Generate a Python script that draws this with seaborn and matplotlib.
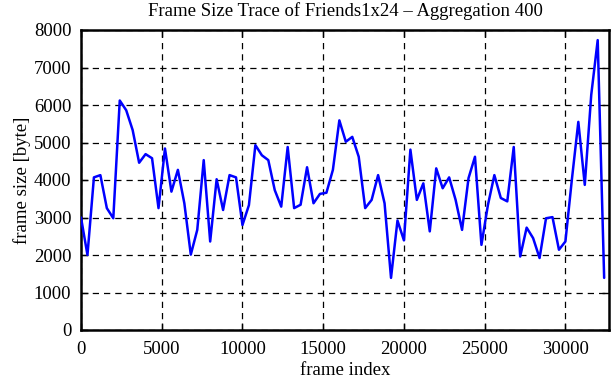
import numpy as np
import pandas as pd
import matplotlib
matplotlib.use("Agg")
import matplotlib.pyplot as plt
import seaborn as sns

# aggregated frame sizes, one value every 400 frames
frame_index = [i * 400 for i in range(82)]
frame_size = [
    3000, 2000, 4070, 4130, 3250, 2980, 6120, 5860, 5330, 4460,
    4690, 4580, 3250, 4840, 3690, 4270, 3380, 2010, 2670, 4530,
    2360, 4020, 3200, 4130, 4070, 2800, 3330, 4930, 4660, 4530,
    3730, 3290, 4880, 3250, 3340, 4340, 3380, 3630, 3660, 4270,
    5590, 5020, 5150, 4620, 3250, 3470, 4130, 3380, 1390, 2920,
    2390, 4810, 3470, 3910, 2630, 4310, 3780, 4070, 3470, 2670,
    4050, 4620, 2270, 3330, 4130, 3520, 3430, 4880, 1960, 2730,
    2450, 1920, 2980, 3010, 2140, 2360, 4010, 5550, 3870, 6270,
    7730, 1390,
]
x_ticks = [0, 5000, 10000, 15000, 20000, 25000, 30000]
y_ticks = [0, 1000, 2000, 3000, 4000, 5000, 6000, 7000, 8000]

df = pd.DataFrame({"frame index": frame_index, "frame size": frame_size})

sns.set_style("ticks")
plt.rcParams['font.family'] = ['Liberation Serif', 'DejaVu Serif']
plt.rcParams['text.color'] = 'black'
plt.rcParams['axes.labelcolor'] = 'black'
fs = 13.5

fig = plt.figure(figsize=(6.11, 3.80), dpi=100)
ax = fig.add_axes([81 / 611, 50 / 380, 528 / 611, 300 / 380])

sns.lineplot(data=df, x="frame index", y="frame size", color="#0000ff",
             linewidth=1.8, ax=ax, zorder=3)

ax.set_xlim(0, 32700)
ax.set_ylim(0, 8000)
ax.set_xticks(x_ticks)
ax.set_yticks(y_ticks)
ax.grid(True, color="black", linestyle=(0, (5, 4)), linewidth=0.9)
ax.tick_params(direction="in", length=5, width=1, top=True, right=True,
               labelsize=fs, colors="black")
ax.tick_params(axis="x", pad=8)
ax.tick_params(axis="y", pad=7)
for s in ax.spines.values():
    s.set_linewidth(1.8)
    s.set_color("black")

fig.text(0.5 * (81 + 609) / 611, 1 - 11 / 380,
         "Frame Size Trace of Friends1x24 – Aggregation 400",
         fontsize=fs, ha="center", va="center", color="black")
ax.set_xlabel("frame index", fontsize=fs, labelpad=3, color="black")
ax.set_ylabel("frame size [byte]", fontsize=fs, labelpad=2, color="black")

fig.savefig("out.png", dpi=100)
